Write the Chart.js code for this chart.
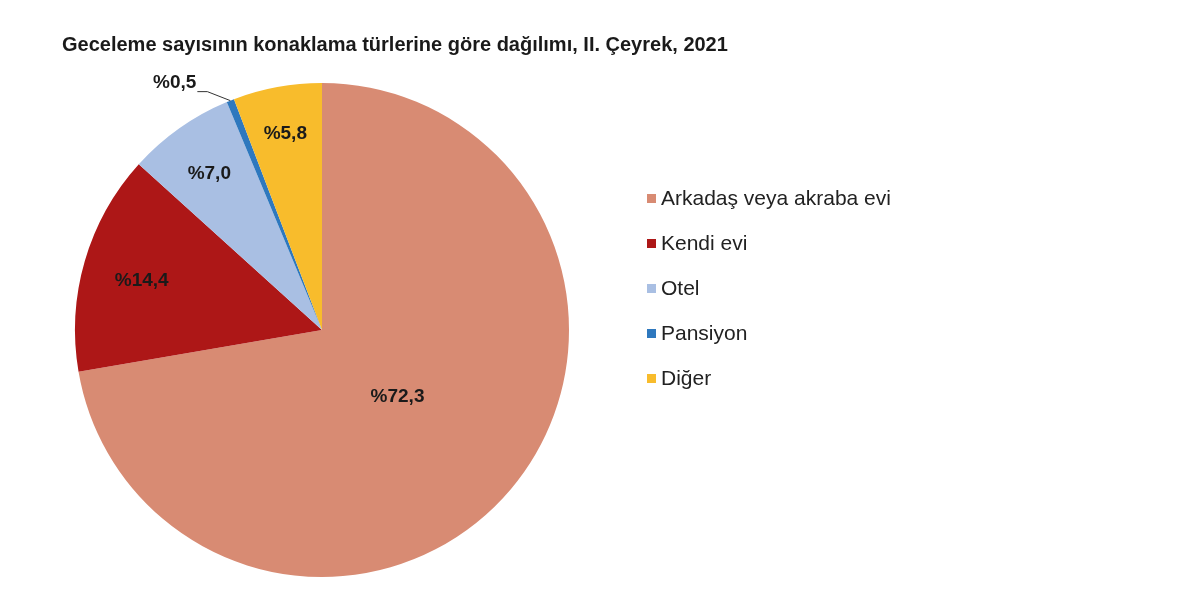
<!DOCTYPE html>
<html>
<head>
<meta charset="utf-8">
<script src="https://cdn.jsdelivr.net/npm/chart.js@4.4.0/dist/chart.umd.min.js"></script>
<style>
  html, body { margin: 0; padding: 0; background: #fff; }
  #wrap { width: 1200px; height: 608px; }
</style>
</head>
<body>
<div id="wrap"><canvas id="chart"></canvas></div>
<script>
const title = 'Geceleme sayısının konaklama türlerine göre dağılımı, II. Çeyrek, 2021';
const categories = ['Arkadaş veya akraba evi', 'Kendi evi', 'Otel', 'Pansiyon', 'Diğer'];
const shares = [72.3, 14.4, 7.0, 0.5, 5.8];
const colors = ['#D88B73', '#AD1717', '#A9BFE3', '#2E78BE', '#F8BC2C'];

// how far from the centre each label sits (fraction of radius); null = outside with leader
const labelRadius = [0.4, 0.76, 0.79, null, 0.82];

const fmt = v => '%' + v.toFixed(1).replace('.', ',');

const decorations = {
  id: 'decorations',
  afterDraw(chart) {
    const ctx = chart.ctx;
    ctx.save();

    // title
    ctx.fillStyle = '#1a1a1a';
    ctx.font = 'bold 20px "Liberation Sans", Arial, sans-serif';
    ctx.textAlign = 'left';
    ctx.textBaseline = 'middle';
    ctx.fillText(title, 62, 45);

    // slice labels
    const arcs = chart.getDatasetMeta(0).data;
    ctx.font = 'bold 19px "Liberation Sans", Arial, sans-serif';
    arcs.forEach((arc, i) => {
      const { x, y, startAngle, endAngle, outerRadius } = arc.getProps(['x', 'y', 'startAngle', 'endAngle', 'outerRadius'], true);
      const mid = (startAngle + endAngle) / 2;
      const dx = Math.cos(mid), dy = Math.sin(mid);
      if (labelRadius[i] !== null) {
        ctx.textAlign = 'center';
        ctx.fillText(fmt(shares[i]), x + dx * outerRadius * labelRadius[i], y + dy * outerRadius * labelRadius[i] + 3);
      } else {
        const ex = x + dx * outerRadius, ey = y + dy * outerRadius;
        const kx = ex - 23, ky = ey - 9;
        ctx.strokeStyle = '#333';
        ctx.lineWidth = 1;
        ctx.beginPath();
        ctx.moveTo(ex, ey);
        ctx.lineTo(kx, ky);
        ctx.lineTo(kx - 10, ky);
        ctx.stroke();
        ctx.textAlign = 'right';
        ctx.fillText(fmt(shares[i]), kx - 11, ky - 9);
      }
    });

    // legend
    ctx.font = '21px "Liberation Sans", Arial, sans-serif';
    ctx.textAlign = 'left';
    categories.forEach((c, i) => {
      const cy = 198 + i * 45;
      ctx.fillStyle = colors[i];
      ctx.fillRect(647, cy - 4, 9, 9);
      ctx.fillStyle = '#222';
      ctx.fillText(c, 661, cy + 1);
    });

    ctx.restore();
  }
};

new Chart(document.getElementById('chart'), {
  type: 'pie',
  data: {
    labels: categories,
    datasets: [{
      data: shares,
      backgroundColor: colors,
      borderWidth: 0,
    }],
  },
  options: {
    responsive: true,
    maintainAspectRatio: false,
    animation: false,
    layout: { padding: { top: 83, bottom: 31, left: 75, right: 631 } },
    plugins: {
      legend: { display: false },
      title: { display: false },
      tooltip: { enabled: false },
    },
  },
  plugins: [decorations],
});
</script>
</body>
</html>
